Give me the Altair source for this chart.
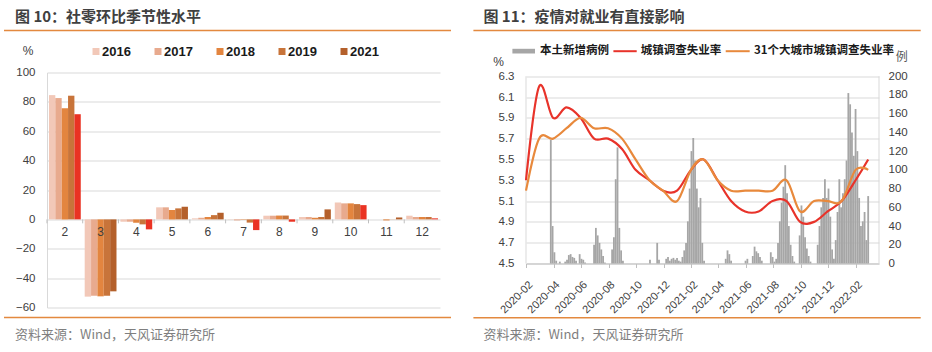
import altair as alt
import pandas as pd
import numpy as np

CJK = "Noto Sans CJK SC"
NUM = "Liberation Sans"

# ---------------- 图10 data ----------------
months = ["2", "3", "4", "5", "6", "7", "8", "9", "10", "11", "12"]
years = ["2016", "2017", "2018", "2019", "2021"]
v2016 = [84.6, -52.6, -1.6, 8.2, 0.7, -0.2, 2.5, 1.6, 11.5, 0.0, 2.5]
v2017 = [82.6, -52.0, -1.6, 8.2, 1.1, -0.7, 2.5, 1.6, 10.9, 0.0, 1.6]
v2018 = [75.7, -52.4, -2.3, 6.3, 1.6, -0.3, 2.6, 1.1, 10.9, -0.7, 1.6]
v2019 = [84.2, -52.0, -3.4, 7.5, 2.9, -2.2, 2.6, 1.6, 10.4, 0.1, 1.6]
v2021 = [71.6, -49.0, -6.8, 8.6, 4.5, -7.3, -1.6, 6.8, 9.7, 1.3, 0.7]
year_colors = ["#f2c8b8", "#e8aa8e", "#e3853f", "#c8743a", "#b4602b"]
below_color = "#ea3323"
left_ticks = [-60, -40, -20, 0, 20, 40, 60, 80, 100]
title10 = "图 10：社零环比季节性水平"

# ---------------- 图11 data ----------------
rate_dates = [d.strftime("%Y-%m-%d") for d in pd.date_range("2020-01-31", periods=26, freq="ME")]
urban_rate = [5.3, 6.2, 5.9, 6.0, 5.9, 5.7, 5.7, 5.6, 5.4, 5.3, 5.2, 5.2,
              5.4, 5.5, 5.3, 5.1, 5.0, 5.0, 5.1, 5.1, 4.9, 4.9, 5.0, 5.1,
              5.3, 5.5]
city31_rate = [5.2, 5.7, 5.7, 5.8, 5.9, 5.8, 5.8, 5.7, 5.5, 5.3, 5.2, 5.1,
               5.4, 5.5, 5.3, 5.2, 5.2, 5.2, 5.2, 5.3, 5.0, 5.1, 5.1, 5.1,
               5.4, 5.4]
series_names = ["本土新增病例", "城镇调查失业率", "31个大城市城镇调查失业率"]
case_start = "2020-02-01"
case_bin_days = 4
local_cases = [
    0, 0, 0, 0, 0, 0, 0, 0, 0, 0,
    0, 0, 0, 132, 40, 12, 3, 0, 2, 0,
    0, 2, 4, 9, 10, 7, 6, 3, 0, 10,
    5, 4, 1, 0, 0, 0, 0, 20, 38, 30,
    22, 15, 8, 1, 0, 0, 0, 15, 28, 90,
    124, 38, 14, 3, 0, 0, 0, 0, 0, 0,
    0, 0, 0, 0, 0, 0, 0, 0, 4, 0,
    0, 0, 22, 4, 0, 0, 0, 5, 7, 3,
    5, 6, 4, 6, 3, 2, 7, 14, 22, 45,
    80, 120, 134, 110, 80, 60, 70, 22, 3, 0,
    0, 0, 0, 0, 0, 0, 0, 0, 0, 0,
    5, 14, 10, 3, 0, 0, 0, 0, 0, 0,
    0, 3, 5, 0, 0, 8, 18, 13, 11, 7,
    3, 0, 0, 0, 0, 12, 7, 2, 5, 22,
    45, 65, 82, 105, 75, 40, 20, 8, 2, 0,
    0, 30, 62, 50, 28, 16, 8, 2, 0, 0,
    0, 20, 40, 60, 70, 90, 70, 80, 50, 15,
    5, 25, 55, 90, 60, 75, 90, 110, 182, 170,
    140, 115, 165, 120, 70, 40, 45, 55, 25, 72,
]
x_tick_labels = ["2020-02", "2020-04", "2020-06", "2020-08", "2020-10", "2020-12",
                 "2021-02", "2021-04", "2021-06", "2021-08", "2021-10", "2021-12", "2022-02"]
rate_ticks = [4.5, 4.7, 4.9, 5.1, 5.3, 5.5, 5.7, 5.9, 6.1, 6.3]
case_ticks = [0, 20, 40, 60, 80, 100, 120, 140, 160, 180, 200]
title11 = "图 11：疫情对就业有直接影响"
source_text = "资料来源：Wind，天风证券研究所"

RULE = "#e3893f"
TXT = "#404040"
GRID = "#d9d9d9"
RED = "#e8332a"
ORANGE = "#e8893c"


def label(txt, x, y, size, weight="normal", color=TXT, align="left", font=CJK):
    return alt.Chart(pd.DataFrame({"t": [txt]})).mark_text(
        align=align, baseline="middle", fontSize=size, fontWeight=weight,
        color=color, font=font
    ).encode(x=alt.value(x), y=alt.value(y), text="t:N")


def hline(x1, x2, y, color, width):
    return alt.Chart(pd.DataFrame({"a": [0]})).mark_rule(
        color=color, strokeWidth=width, opacity=1
    ).encode(x=alt.value(x1), x2=alt.value(x2), y=alt.value(y))


# ================= Left panel =================
W1, H1 = 393, 235
series10 = [v2016, v2017, v2018, v2019, v2021]
rows = []
for mi, m in enumerate(months):
    hist_mean = np.mean([s[mi] for s in series10[:-1]])
    for y, s in zip(years, series10):
        key = y
        if y == "2021" and s[mi] < hist_mean:
            key = "2021低"
        rows.append({"month": m, "year": y, "value": s[mi], "ckey": key})
df10 = pd.DataFrame(rows)

xscale10 = alt.Scale(paddingInner=0.11, paddingOuter=0.055)
yscale10 = alt.Scale(domain=[-60, 100], nice=False)
yaxis10 = alt.Axis(values=left_ticks, title=None, grid=True, gridColor=GRID,
                   ticks=False, domainColor=GRID, labelPadding=12, labelOverlap=False,
                   labelFont=NUM, labelFontSize=11.5, labelColor=TXT)

bars10 = alt.Chart(df10).mark_bar().encode(
    x=alt.X("month:N", sort=months, axis=None, scale=xscale10),
    xOffset=alt.XOffset("year:N", sort=years, scale=alt.Scale(paddingInner=0, paddingOuter=0)),
    y=alt.Y("value:Q", scale=yscale10, axis=yaxis10),
    color=alt.Color("ckey:N", scale=alt.Scale(domain=years + ["2021低"],
                                              range=year_colors + [below_color]),
                    legend=None),
)

mdf = pd.DataFrame({"month": months, "zero": [0] * len(months), "tick": [-2.7] * len(months)})
ticks10 = alt.Chart(mdf).mark_rule(color="#bfbfbf", strokeWidth=1, xOffset=-2).encode(
    x=alt.X("month:N", sort=months, bandPosition=0, axis=None, scale=xscale10),
    y=alt.Y("zero:Q", scale=yscale10, axis=yaxis10), y2="tick:Q")
mlab10 = alt.Chart(mdf).mark_text(dy=13, fontSize=12, color=TXT, font=NUM).encode(
    x=alt.X("month:N", sort=months, axis=None, scale=xscale10),
    y=alt.Y("zero:Q", scale=yscale10, axis=yaxis10), text="month:N")

leg10 = pd.DataFrame({"year": years, "hex": year_colors,
                      "px": [49 + 62 * i for i in range(len(years))]})
leg10["tx"] = leg10["px"] + 6
legsq10 = alt.Chart(leg10).mark_square(size=49, opacity=1).encode(
    x=alt.X("px:Q", scale=None), y=alt.value(-21),
    fill=alt.Fill("hex:N", scale=None))
legtx10 = alt.Chart(leg10).mark_text(align="left", baseline="middle", fontSize=13,
                                     fontWeight="bold", font=NUM, color="#1a1a1a").encode(
    x=alt.X("tx:Q", scale=None), y=alt.value(-21), text="year:N")

left = alt.layer(
    bars10, ticks10, mlab10,
    label(title10, -32, -56, 15, "bold"),
    hline(-43, 404, -42, RULE, 1.5),
    label("%", -19, -22, 12, font=NUM, align="center"),
    legsq10, legtx10,
    hline(-43, 404, 245, RULE, 1.5),
    label(source_text, -32, 262, 13, color="#7f7f7f"),
).properties(width=W1, height=H1)

# ================= Right panel =================
# plot frame starts a few px above the 6.3 gridline (the row is aligned with the left panel)
W2 = 353
GRID_H = 187.3           # height between 4.5 and 6.3 gridlines
TOP_GAP = 3.7            # px between frame top and 6.3 gridline
H2 = GRID_H + TOP_GAP
rate_top = 6.3 + TOP_GAP * (6.3 - 4.5) / GRID_H
case_top = 200 + TOP_GAP * 200 / GRID_H

start = pd.Timestamp(case_start)
cdf = pd.DataFrame({
    "start": [(start + pd.Timedelta(days=case_bin_days * i)).strftime("%Y-%m-%d") for i in range(len(local_cases))],
    "end": [(start + pd.Timedelta(days=case_bin_days * (i + 1))).strftime("%Y-%m-%d") for i in range(len(local_cases))],
    "cases": local_cases,
    "base": [0] * len(local_cases),
})
udf = pd.DataFrame({"date": rate_dates, "rate": urban_rate})
cdf31 = pd.DataFrame({"date": rate_dates, "rate": city31_rate})

xscale11 = alt.Scale(type="utc", domain=[alt.DateTime(year=2020, month=1, date=31, utc=True),
                                         alt.DateTime(year=2022, month=3, date=24, utc=True)])
xvals = [alt.DateTime(year=int(s[:4]), month=int(s[5:]), date=1, utc=True) for s in x_tick_labels]
xaxis11 = alt.Axis(values=xvals, format="%Y-%m", labelAngle=-45, title=None, grid=False,
                   tickSize=4, tickColor="#bfbfbf", domainColor="#bfbfbf", labelOverlap=False,
                   labelFont=NUM, labelFontSize=11, labelColor=TXT, labelPadding=11)

bars11 = alt.Chart(cdf).mark_rect(color="#a6a6a6").encode(
    x=alt.X("start:T", scale=xscale11, axis=xaxis11),
    x2="end:T",
    y=alt.Y("cases:Q", scale=alt.Scale(domain=[0, case_top], nice=False),
            axis=alt.Axis(orient="right", values=case_ticks, title=None, grid=False,
                          ticks=False, domain=False, labelPadding=9, labelOverlap=False,
                          labelFont=NUM, labelFontSize=11.5, labelColor=TXT)),
    y2="base:Q",
)
yscale11 = alt.Scale(domain=[4.5, rate_top], nice=False)
yaxis11 = alt.Axis(orient="left", values=rate_ticks, format=".1f", title=None,
                   grid=True, gridColor=GRID, ticks=False, domain=False,
                   labelPadding=12, labelFont=NUM, labelFontSize=11.5,
                   labelOverlap=False, labelColor=TXT)
red_line = alt.Chart(udf).mark_line(interpolate="cardinal", strokeWidth=2.2, color=RED).encode(
    x=alt.X("date:T", scale=xscale11, axis=xaxis11),
    y=alt.Y("rate:Q", scale=yscale11, axis=yaxis11),
)
orange_line = alt.Chart(cdf31).mark_line(interpolate="cardinal", strokeWidth=2.2, color=ORANGE).encode(
    x=alt.X("date:T", scale=xscale11, axis=xaxis11),
    y=alt.Y("rate:Q", scale=yscale11, axis=yaxis11),
)
frame_df = pd.DataFrame({"lo": [rate_ticks[0]], "hi": [rate_ticks[-1]]})
left_dom = alt.Chart(frame_df).mark_rule(color=GRID, strokeWidth=1).encode(
    x=alt.value(0), y=alt.Y("lo:Q", scale=yscale11, axis=yaxis11), y2="hi:Q")
right_dom = alt.Chart(frame_df).mark_rule(color=GRID, strokeWidth=1).encode(
    x=alt.value(W2), y=alt.Y("lo:Q", scale=yscale11, axis=yaxis11), y2="hi:Q")
lines11 = alt.layer(left_dom, right_dom, red_line, orange_line)

legrect = alt.Chart(pd.DataFrame({"a": [0]})).mark_rect(color="#a6a6a6").encode(
    x=alt.value(-13.6), x2=alt.value(9), y=alt.value(-23.7), y2=alt.value(-19))

plot11 = alt.layer(bars11, lines11).resolve_scale(y="independent")

right = alt.layer(
    plot11,
    label(title11, -42.6, -56, 15, "bold"),
    hline(-52.6, 394.7, -42, RULE, 1.5),
    legrect,
    label(series_names[0], 14, -21.3, 11.5, "bold", color="#1a1a1a"),
    hline(87.4, 110.7, -21.3, RED, 2),
    label(series_names[1], 114.7, -21.3, 11.5, "bold", color="#1a1a1a"),
    hline(199.7, 223.7, -21.3, ORANGE, 2),
    label(series_names[2], 228, -21.3, 11.5, "bold", color="#1a1a1a"),
    label("例", 375.7, -16, 12, color="#595959", align="center"),
    label("%", -27.3, -11, 12, font=NUM, align="center"),
    hline(-52.6, 394.7, 245.3, RULE, 1.5),
    label(source_text, -42.6, 262, 13, color="#7f7f7f"),
).properties(width=W2, height=H2)

chart = alt.concat(left, right, columns=2, spacing=20).properties(
    align="none",
    padding={"left": 3, "top": 9.5, "right": 0, "bottom": 0},
    background="white",
).configure_view(stroke=None)

chart.save("out.html", embed_options={"renderer": "svg", "actions": False})
